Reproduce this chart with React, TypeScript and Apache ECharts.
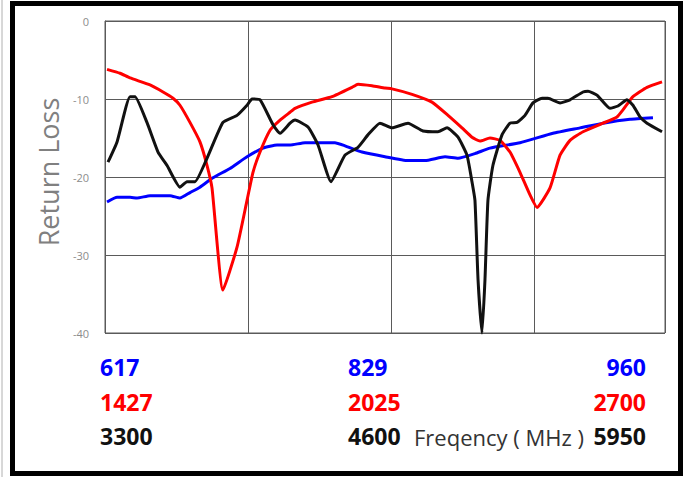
import React, { useEffect, useRef } from "react";
import * as echarts from "echarts";

// x positions are in plot units (0..47), shared index scale
const blueX = [0.17, 1.01, 2.1, 2.69, 3.78, 5.46, 6.29, 7.13, 7.97, 9.06, 10.49, 11.92, 13.26, 14.44, 15.53, 16.79, 19.3, 20.14, 21.57, 23.5, 25.43, 26.86, 28.54, 29.63, 31.05, 32.31, 34.83, 37.6, 39.87, 41.8, 44.06, 45.99];
const blueY = [-23.2, -22.6, -22.6, -22.7, -22.4, -22.4, -22.7, -22.0, -21.3, -20.1, -18.9, -17.4, -16.3, -15.9, -15.9, -15.6, -15.6, -16.0, -16.8, -17.4, -17.9, -17.9, -17.4, -17.6, -17.0, -16.3, -15.6, -14.4, -13.7, -13.1, -12.6, -12.4];

const redX = [0.17, 1.26, 2.1, 3.78, 4.87, 5.71, 6.29, 7.13, 7.97, 8.56, 8.98, 9.9, 11.08, 11.92, 12.42, 13.01, 13.85, 14.69, 15.53, 15.95, 17.37, 19.05, 20.73, 21.23, 22.41, 23.5, 24.09, 25.77, 27.44, 28.79, 29.96, 30.8, 31.47, 32.31, 33.15, 33.99, 34.83, 35.67, 36.26, 37.35, 38.19, 39.03, 40.12, 41.8, 42.97, 43.47, 44.31, 45.49, 46.75];
const redY = [-6.2, -6.7, -7.3, -8.2, -9.1, -9.9, -10.8, -13.0, -15.5, -18.5, -21.4, -34.5, -29.0, -23.0, -19.4, -16.8, -14.0, -12.7, -11.7, -11.2, -10.4, -9.7, -8.5, -8.1, -8.3, -8.6, -8.7, -9.4, -10.4, -12.1, -13.7, -14.9, -15.4, -15.0, -15.3, -16.8, -19.4, -22.3, -23.9, -21.4, -17.2, -15.3, -14.2, -13.1, -12.3, -11.4, -9.7, -8.5, -7.8];

const blackX = [0.25, 1.01, 2.1, 2.52, 3.52, 4.45, 5.2, 6.29, 6.88, 7.55, 8.56, 9.9, 11.08, 11.92, 12.34, 13.01, 14.1, 14.69, 15.53, 15.95, 17.04, 17.88, 18.97, 20.14, 21.23, 22.07, 23.08, 24.09, 25.43, 26.69, 27.95, 28.7, 29.63, 30.38, 30.8, 31.05, 31.31, 31.64, 31.89, 32.14, 32.56, 33.32, 33.99, 34.58, 35.25, 35.92, 36.68, 37.18, 38.19, 39.03, 40.12, 40.54, 41.29, 42.38, 43.05, 43.81, 44.31, 44.9, 45.49, 46.75];
const blackY = [-18.1, -15.5, -9.7, -9.7, -13.0, -16.8, -18.5, -21.3, -20.6, -20.6, -17.6, -13.0, -12.1, -10.8, -10.0, -10.1, -13.3, -14.4, -13.1, -12.7, -13.6, -15.9, -20.6, -17.2, -16.2, -14.6, -13.1, -13.7, -13.1, -14.1, -14.2, -13.7, -14.9, -17.2, -20.6, -23.0, -33.2, -40.0, -33.2, -23.0, -18.5, -14.6, -13.1, -13.0, -12.1, -10.5, -9.9, -9.9, -10.5, -10.1, -9.1, -9.0, -9.5, -11.2, -10.9, -10.1, -10.8, -12.3, -13.1, -14.2];

const yTicks = [0, -10, -20, -30, -40];

const blueLabels = ["617", "829", "960"];
const redLabels = ["1427", "2025", "2700"];
const blackLabels = ["3300", "4600", "5950"];
const xAxisTitle = "Freqency ( MHz )";
const yAxisTitle = "Return Loss";

const pairs = (xs: number[], ys: number[]) => xs.map((x, i) => [x, ys[i]]);

export default function App() {
  const ref = useRef<HTMLDivElement>(null);
  useEffect(() => {
    if (!ref.current) return;
    const chart = echarts.init(ref.current, null, { renderer: "svg" });
    const font = "'Open Sans', 'Noto Sans', sans-serif";
    const rows = [
      { labels: blueLabels, color: "#0000ff", y: 367 },
      { labels: redLabels, color: "#ff0000", y: 402 },
      { labels: blackLabels, color: "#111111", y: 436 },
    ];
    const labelGraphics: any[] = [];
    rows.forEach((r) => {
      const xs = [100, 348, 646];
      const aligns = ["left", "left", "right"];
      r.labels.forEach((t, i) => {
        labelGraphics.push({
          type: "text",
          x: xs[i],
          y: r.y,
          style: {
            text: t,
            fill: r.color,
            font: `700 23px ${font}`,
            align: aligns[i],
            verticalAlign: "middle",
          },
        });
      });
    });
    chart.setOption({
      animation: false,
      backgroundColor: "#ffffff",
      grid: {
        left: 105,
        top: 21,
        width: 560,
        height: 312,
        show: true,
        borderColor: "#5a5a5a",
        borderWidth: 1,
      },
      xAxis: {
        type: "value",
        min: 0,
        max: 47,
        interval: 12,
        axisLabel: { show: false },
        axisTick: { show: false },
        axisLine: { show: false },
        splitLine: { show: true, lineStyle: { color: "#5a5a5a", width: 1 } },
      },
      yAxis: {
        type: "value",
        min: -40,
        max: 0,
        interval: 10,
        axisLabel: {
          color: "#8c8c8c",
          fontSize: 11,
          fontFamily: font,
          margin: 16,
          formatter: (v: number) => (yTicks.includes(v) ? String(v) : ""),
        },
        axisTick: { show: false },
        axisLine: { show: true, lineStyle: { color: "#5a5a5a" } },
        splitLine: { show: true, lineStyle: { color: "#5a5a5a", width: 1 } },
      },
      series: [
        {
          type: "line",
          data: pairs(blueX, blueY),
          symbol: "none",
          smooth: 0.15,
          lineStyle: { color: "#0000ff", width: 3 },
          clip: true,
        },
        {
          type: "line",
          data: pairs(redX, redY),
          symbol: "none",
          smooth: 0.15,
          lineStyle: { color: "#ff0000", width: 3 },
          clip: true,
        },
        {
          type: "line",
          data: pairs(blackX, blackY),
          symbol: "none",
          smooth: 0.15,
          lineStyle: { color: "#111111", width: 3 },
          clip: false,
        },
      ],
      graphic: [
        {
          type: "rect",
          shape: { x: 12.5, y: 3.5, width: 668, height: 470 },
          style: { fill: "none", stroke: "#000", lineWidth: 5 },
          silent: true,
        },
        {
          type: "line",
          shape: { x1: 2, y1: 0, x2: 2, y2: 477 },
          style: { stroke: "#b0b0b0", lineWidth: 1 },
          silent: true,
        },
        {
          type: "text",
          x: 48,
          y: 172,
          rotation: Math.PI / 2,
          style: {
            text: yAxisTitle,
            fill: "#808080",
            font: `400 27px ${font}`,
            align: "center",
            verticalAlign: "middle",
          },
        },
        {
          type: "text",
          x: 414,
          y: 437,
          style: {
            text: xAxisTitle,
            fill: "#333333",
            font: `400 22px ${font}`,
            align: "left",
            verticalAlign: "middle",
          },
        },
        ...labelGraphics,
      ],
    });
    return () => chart.dispose();
  }, []);
  return (
    <div style={{ position: "fixed", left: 0, top: 0, width: 683, height: 477, background: "#fff" }}>
      <div ref={ref} style={{ width: 683, height: 477 }} />
    </div>
  );
}
